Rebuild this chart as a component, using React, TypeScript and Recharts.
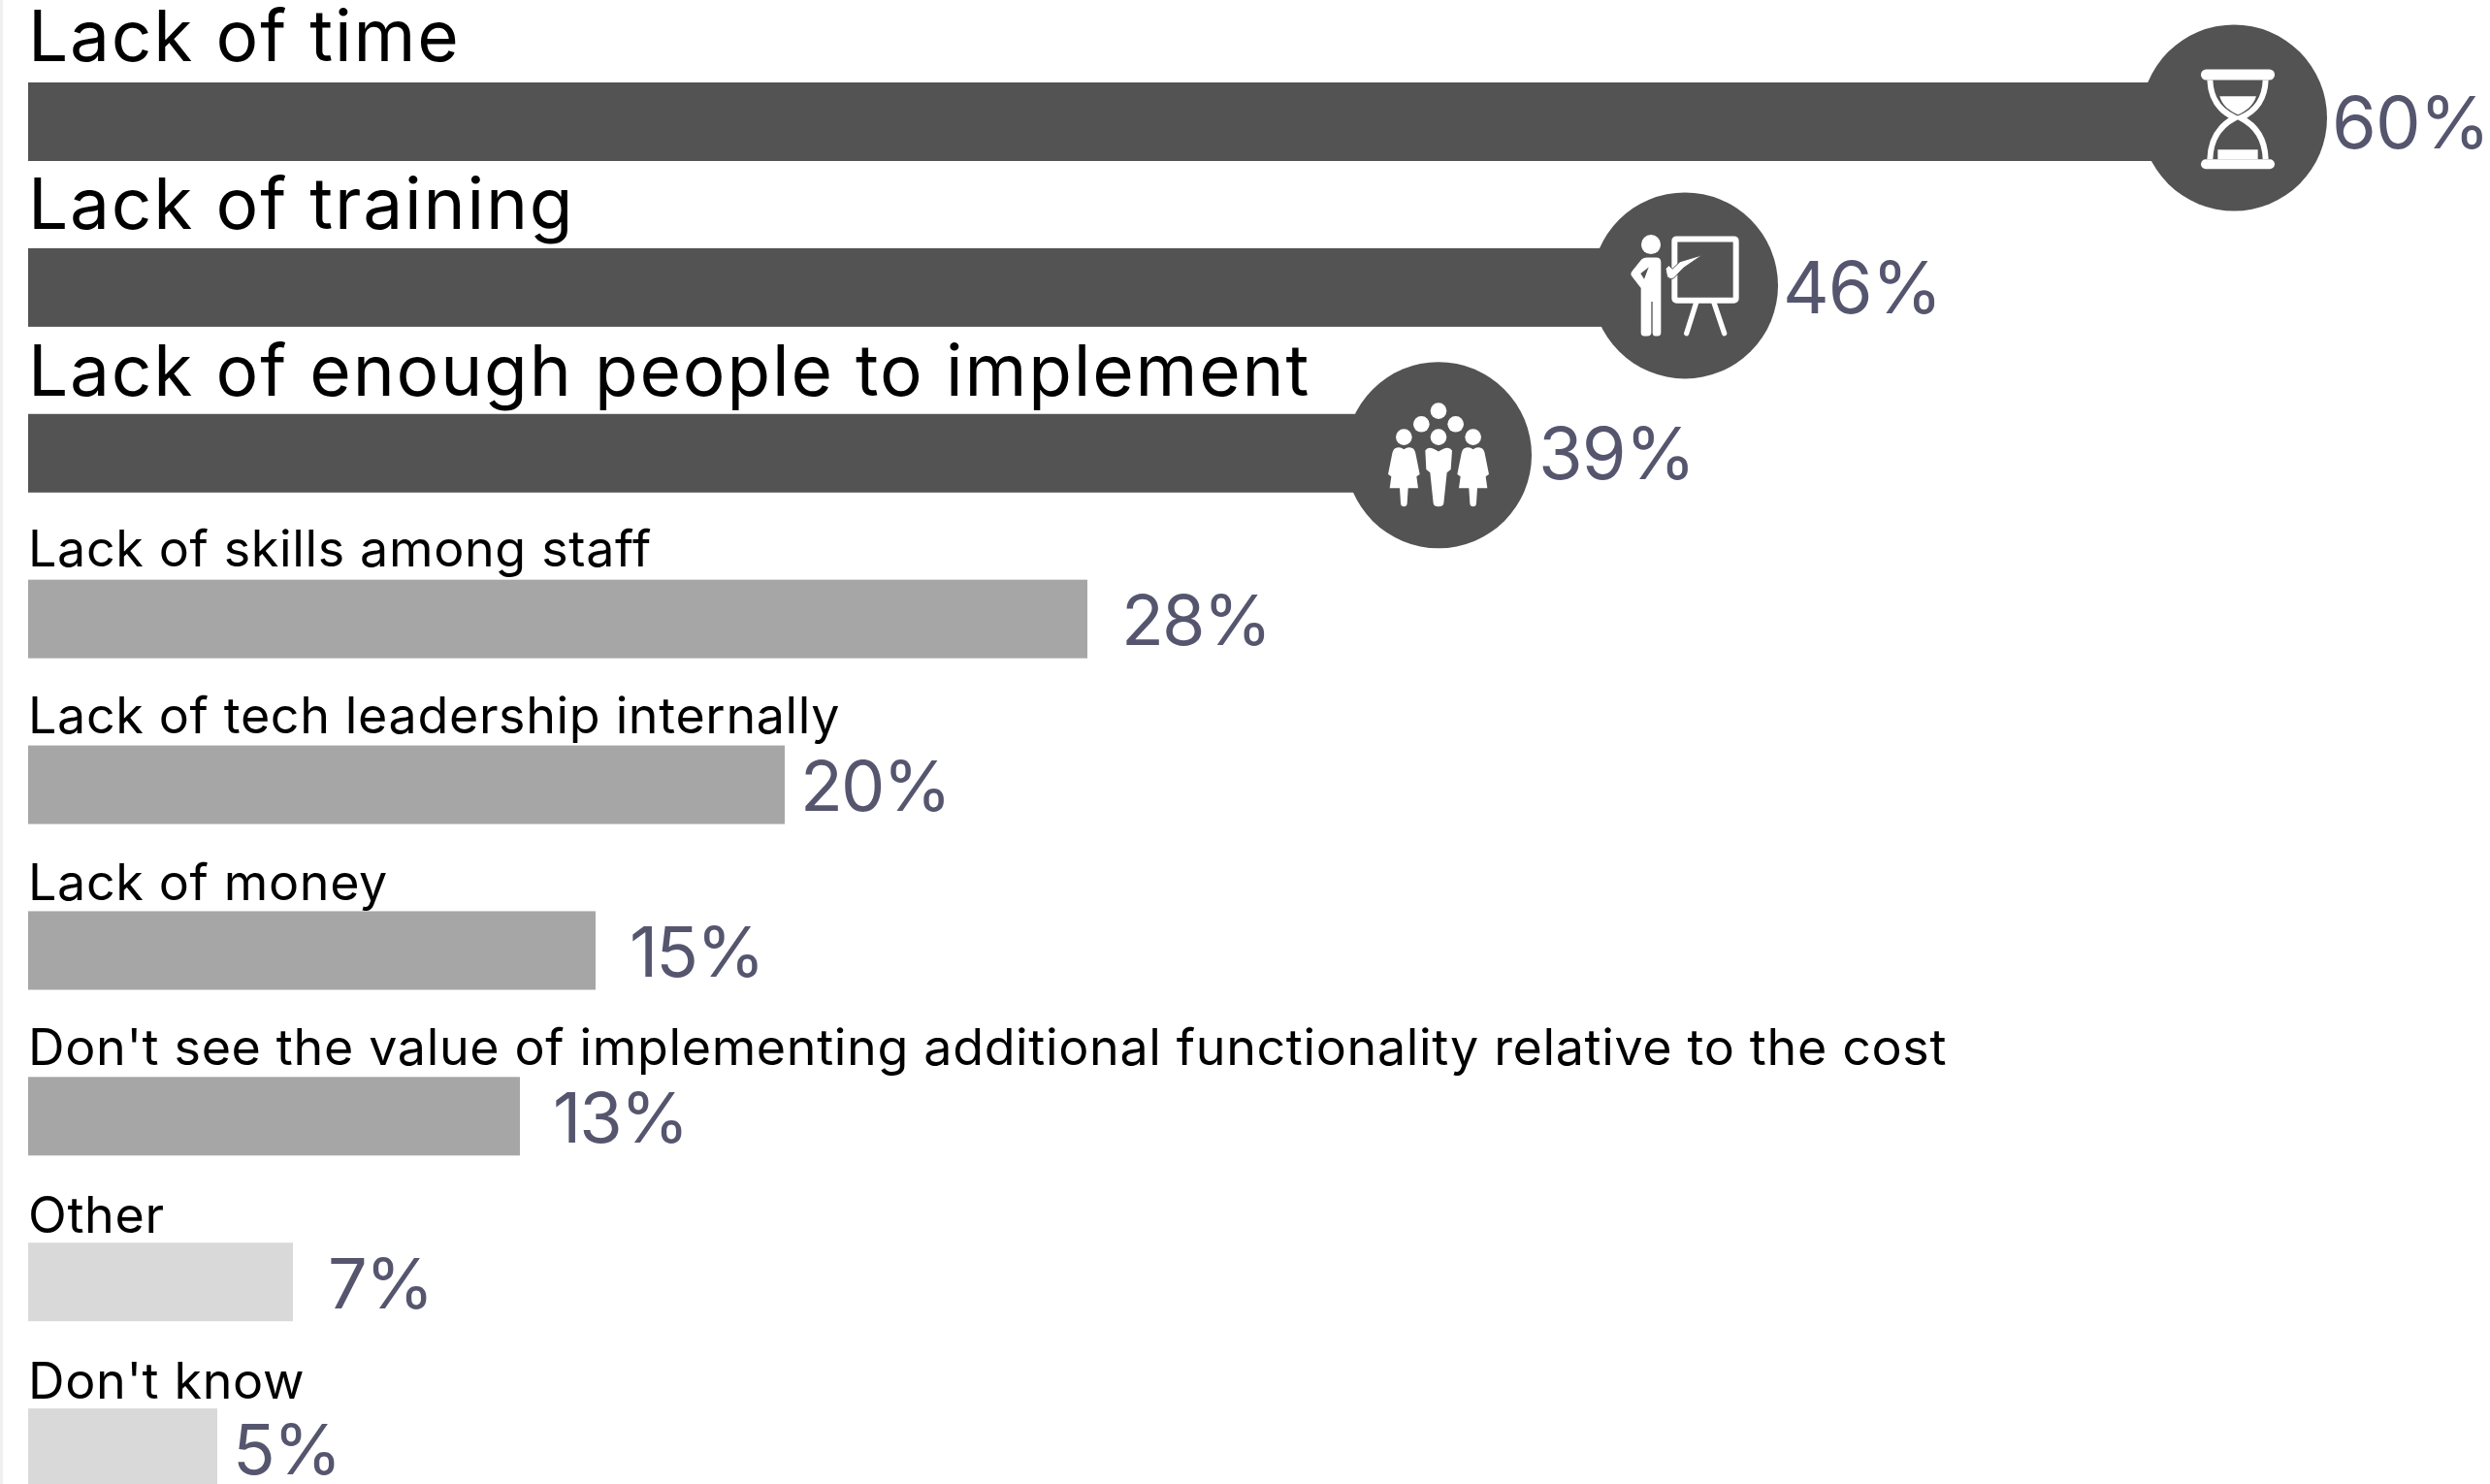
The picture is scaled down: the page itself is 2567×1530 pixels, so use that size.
import React from 'react';
import { BarChart, Bar, XAxis, YAxis, Cell } from 'recharts';

const categories = [
  'Lack of time',
  'Lack of training',
  'Lack of enough people to implement',
  'Lack of skills among staff',
  'Lack of tech leadership internally',
  'Lack of money',
  "Don't see the value of implementing additional functionality relative to the cost",
  'Other',
  "Don't know",
];
const percents = [60, 46, 39, 28, 20, 15, 13, 7, 5];
const shades = ['#535353', '#535353', '#535353', '#a6a6a6', '#a6a6a6', '#a6a6a6', '#a6a6a6', '#d9d9d9', '#d9d9d9'];

const rows = categories.map((name, i) => ({ name, percent: percents[i] }));

// gap between bar end and value text, per row
const valueGaps = [35, 15, 36, 35, 16, 35, 34, 36, 16];
// how far each caption baseline sits above its bar
const captionLift = [22, 20, 19, 14, 13, 11, 12, 10, 10];
// icon centre relative to the bar end and bar middle
const iconShift = [-66, -86, -67];
const iconDrop = [-4, -2, 2];

const Hourglass = () => (
  <g transform="scale(0.3333) translate(-372,-362)" fill="#fff">
    <rect x={270} y={212} width={228} height={33} rx={16} />
    <rect x={270} y={490} width={228} height={30} rx={15} />
    <path
      d="M298 245C300 300 325 340 375 362C330 385 300 425 298 490M470 245C468 300 443 340 393 362C438 385 468 425 470 490"
      fill="none"
      stroke="#fff"
      strokeWidth={18}
    />
    <path d="M328 295H441C432 325 410 340 385 352C358 340 336 325 328 295Z" />
    <path d="M322 490V460H446V490Z" />
  </g>
);

const Teacher = () => (
  <g transform="scale(0.3333) translate(-350,-342)" fill="#fff">
    <circle cx={245} cy={215} r={30} />
    <rect x={318} y={198} width={190} height={190} rx={6} fill="none" stroke="#fff" strokeWidth={18} />
    <path d="M385 395L355 490M440 395L472 490" stroke="#fff" strokeWidth={16} strokeLinecap="round" />
    <path d="M232 255H262Q276 255 276 270V488Q276 498 266 498H258Q250 498 250 488V392H246V488Q246 498 234 498H224Q214 498 214 488V350L185 312Q180 305 188 296L215 262Q222 255 232 255Z" />
    <path d="M213 305L238 285L224 322Z" fill="#535353" />
    <path d="M290 290L300 280L312 290L335 268L405 247L345 288L315 320Q305 325 295 315Z" stroke="#535353" strokeWidth={3} />
  </g>
);

const Woman = ({ dx }: { dx: number }) => (
  <path
    transform={`translate(${dx},0)`}
    d="M232 305Q245 298 259 308Q273 298 286 305Q293 308 296 325L308 385L298 392L303 428H272L269 475Q268 485 259 485Q250 485 249 475L246 428H215L220 392L210 385L222 325Q225 308 232 305Z"
  />
);

const Crowd = () => (
  <g transform="scale(0.3333) translate(-366,-326)" fill="#fff">
    {[[366, 189], [313, 230], [419, 230], [366, 270], [259, 270], [473, 270]].map(([cx, cy]) => (
      <circle key={`${cx}-${cy}`} cx={cx} cy={cy} r={25} />
    ))}
    <Woman dx={0} />
    <Woman dx={214} />
    <path d="M325 312Q335 293 366 315Q397 293 408 312L404 370L392 380L382 475Q380 485 366 485Q352 485 350 475L340 380L328 370Z" />
  </g>
);

const icons = [Hourglass, Teacher, Crowd];

// one row: bar, category caption above it, value to the right, icon disc on the top three
function Row(props: any) {
  const { x, y, width, height, fill, index, payload } = props;
  const big = index < 3;
  const end = x + width;
  const Icon = icons[index];
  return (
    <g>
      <rect x={x} y={y} width={width} height={height} fill={fill} />
      {Icon && (
        <g transform={`translate(${end + iconShift[index]},${y + height / 2 + iconDrop[index]})`}>
          <circle r={96} fill="#535353" />
          <Icon />
        </g>
      )}
      <text
        x={x}
        y={y - captionLift[index]}
        fontFamily="Inter"
        fontSize={big ? 73 : 52}
        letterSpacing={big ? 1.8 : 0.65}
        fill="#000"
      >
        {payload.name}
      </text>
      <text
        x={end + valueGaps[index]}
        y={y + height / 2 + 27}
        fontFamily="Inter"
        fontSize={big ? 74 : 72}
        letterSpacing={big ? -1 : -2}
        fill="#55566e"
      >
        {payload.percent}%
      </text>
    </g>
  );
}

export default function App() {
  return (
    <div
      style={{
        position: 'absolute',
        left: 0,
        top: 0,
        width: 2567,
        height: 1530,
        overflow: 'hidden',
        background: '#fff',
      }}
    >
      <div style={{ position: 'absolute', left: 0, top: 0, width: 3, height: 1530, background: '#efefef' }} />
      <BarChart
        width={2567}
        height={1578}
        data={rows}
        layout="vertical"
        margin={{ top: 40, right: 198, bottom: 0, left: 29 }}
        style={{ position: 'absolute', left: 0, top: 0 }}
      >
        <XAxis type="number" domain={[0, 60]} hide />
        <YAxis type="category" dataKey="name" hide />
        <Bar dataKey="percent" barSize={81} shape={Row} isAnimationActive={false}>
          {rows.map((r, i) => (
            <Cell key={r.name} fill={shades[i]} />
          ))}
        </Bar>
      </BarChart>
    </div>
  );
}
